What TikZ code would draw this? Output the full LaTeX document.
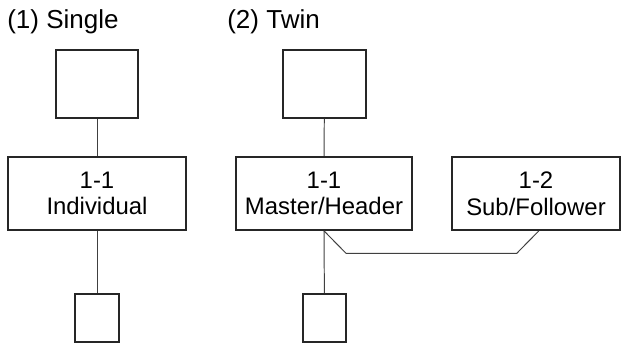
\documentclass[tikz,border=0pt]{standalone}
\usepackage{fontspec}
\setmainfont{Liberation Sans}
\usepackage{tikz}
\usetikzlibrary{positioning}

\begin{document}
\begin{tikzpicture}[
  unit/.style={rectangle,draw=black!85,line width=1.4pt,inner sep=0pt,
    align=center,font=\fontsize{17}{19.2}\selectfont},
  link/.style={draw=black!75,line width=0.7pt},
  title/.style={anchor=base west,inner sep=0pt,font=\fontsize{18.5}{22}\selectfont}
]
  \useasboundingbox (0,0) rectangle (15.575,8.625);

  % (1) Single
  \node[title] (t1) at (0.175,7.9) {(1) Single};
  \node[unit,minimum width=2.05cm,minimum height=1.7cm] (top1) at (2.425,6.525) {};
  \node[unit,minimum width=4.45cm,minimum height=1.825cm] (ind) at (2.425,3.79) {1-1\\Individual};
  \node[unit,minimum width=1.1cm,minimum height=1.2cm] (bot1) at (2.425,0.675) {};
  \draw[link] (top1)--(ind) (ind)--(bot1);

  % (2) Twin
  \node[title] (t2) at (5.675,7.9) {(2) Twin};
  \node[unit,minimum width=2.075cm,minimum height=1.7cm] (top2) at (8.11,6.525) {};
  \node[unit,minimum width=4.4cm,minimum height=1.825cm] (master) at (8.1,3.79) {1-1\\Master/Header};
  \node[unit,minimum width=4.2cm,minimum height=1.825cm] (sub) at (13.4,3.79) {1-2\\Sub/Follower};
  \node[unit,minimum width=1.075cm,minimum height=1.2cm] (bot2) at (8.11,0.675) {};
  \draw[link] (top2)--(master) (master)--(bot2);
  \draw[link] (master.south) -- ++(0.55,-0.56) coordinate (m1)
    -- ++(4.27,0) coordinate (m2) -- ([xshift=2pt]sub.south);
\end{tikzpicture}
\end{document}
